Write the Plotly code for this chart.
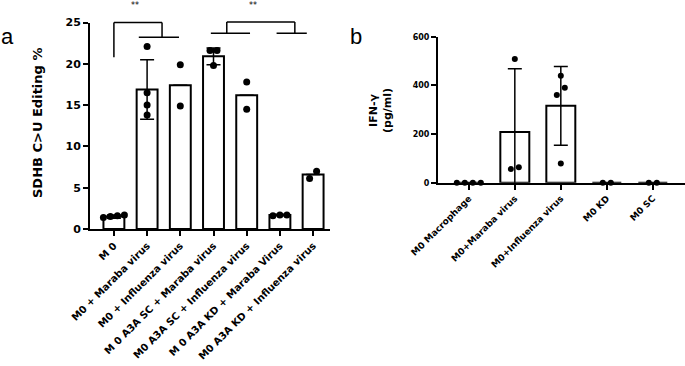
import plotly.graph_objects as go

# ---------------- data ----------------
a_labels = ["M 0", "M0 + Maraba virus", "M0 + Influenza virus",
            "M 0 A3A SC + Maraba virus", "M0 A3A SC + Influenza virus",
            "M 0 A3A KD + Maraba Virus", "M0 A3A KD + Influenza virus"]
a_means = [1.5, 16.9, 17.4, 20.9, 16.2, 1.7, 6.6]
a_sd = [0.2, 3.6, 0, 1.0, 0, 0.1, 0]
a_points = [[1.4, 1.6, 1.5, 1.7], [22.1, 16.5, 15.0, 13.8], [19.9, 14.9],
            [21.6, 21.6, 19.8], [17.8, 14.5], [1.7, 1.7, 1.6], [6.1, 7.0]]
a_yticks = [0, 5, 10, 15, 20, 25]
a_title = "SDHB C>U Editing %"

b_labels = ["M0 Macrophage", "M0+Maraba virus", "M0+Influenza virus", "M0 KD", "M0 SC"]
b_means = [0, 208, 316, 0, 0]
b_sd = [0, 260, 162, 0, 0]
b_points = [[0, 0, 0, 0], [508, 56, 63], [440, 390, 360, 79], [0, 0], [0, 0]]
b_yticks = [0, 200, 400, 600]
b_title = "IFN-γ<br>(pg/ml)"

# ---------------- layout geometry ----------------
W, H = 685, 366
FONT = "DejaVu Sans"
A_X = (90, 330)      # px
A_Y = (229, 22.5)    # px (bottom, top)
A_XR = [-0.72, -0.72 + (A_X[1] - A_X[0]) / 33.2]
A_YR = [0, 25]
B_X = (438, 685)
B_Y = (182.7, 36.7)
B_XR = [-0.67, -0.67 + (B_X[1] - B_X[0]) / 46.0]
B_YR = [0, 600]


def px_scales(xpx, ypx, xr, yr):
    ppc = (xpx[1] - xpx[0]) / (xr[1] - xr[0])
    ppu = (ypx[0] - ypx[1]) / (yr[1] - yr[0])
    return ppc, ppu


def swarm(vals, ppu, ppc, spacing, thresh):
    order = sorted(range(len(vals)), key=lambda i: vals[i])
    clusters = []
    for i in order:
        if clusters and (vals[i] - vals[clusters[-1][-1]]) * ppu < thresh:
            clusters[-1].append(i)
        else:
            clusters.append([i])
    offs = [0.0] * len(vals)
    for c in clusters:
        n = len(c)
        for k, i in enumerate(c):
            offs[i] = (k - (n - 1) / 2) * spacing / ppc
    return offs


fig = go.Figure()

# ---- panel a ----
a_ppc, a_ppu = px_scales(A_X, A_Y, A_XR, A_YR)
a_idx = list(range(len(a_labels)))
fig.add_trace(go.Bar(
    x=a_idx, y=a_means, width=0.63,
    marker=dict(color="white", line=dict(color="black", width=2)),
    error_y=dict(type="data", array=a_sd, visible=True, color="black", thickness=1.5, width=7),
    xaxis="x", yaxis="y", showlegend=False, cliponaxis=False))
ax, ay = [], []
for i, pts in enumerate(a_points):
    offs = swarm(pts, a_ppu, a_ppc, 7, 9)
    for v, o in zip(pts, offs):
        ax.append(i + o)
        ay.append(v)
fig.add_trace(go.Scatter(x=ax, y=ay, mode="markers",
                         marker=dict(color="black", size=7),
                         xaxis="x", yaxis="y", showlegend=False, cliponaxis=False))

# ---- panel b ----
b_ppc, b_ppu = px_scales(B_X, B_Y, B_XR, B_YR)
b_idx = list(range(len(b_labels)))
fig.add_trace(go.Bar(
    x=b_idx, y=b_means, width=0.63,
    marker=dict(color="white", line=dict(color="black", width=2)),
    error_y=dict(type="data", array=b_sd, visible=True, color="black", thickness=1.5, width=7),
    xaxis="x2", yaxis="y2", showlegend=False, cliponaxis=False))
bx, by = [], []
for i, pts in enumerate(b_points):
    offs = swarm(pts, b_ppu, b_ppc, 8, 9)
    for v, o in zip(pts, offs):
        bx.append(i + o)
        by.append(v)
fig.add_trace(go.Scatter(x=bx, y=by, mode="markers",
                         marker=dict(color="black", size=6),
                         xaxis="x2", yaxis="y2", showlegend=False, cliponaxis=False))

axis_common = dict(showgrid=False, zeroline=False, showline=True, linecolor="black",
                   linewidth=2, ticks="outside", tickcolor="black", tickwidth=1.5,
                   ticklen=5, automargin=False)

fig.update_layout(
    width=W, height=H, margin=dict(l=0, r=0, t=0, b=0),
    paper_bgcolor="white", plot_bgcolor="white",
    font=dict(family=FONT, color="black"),
    xaxis=dict(domain=[A_X[0] / W, A_X[1] / W], range=A_XR, tickvals=a_idx,
               ticktext=a_labels, tickangle=-45,
               tickfont=dict(family=FONT, size=10, weight="bold"), anchor="y", **axis_common),
    yaxis=dict(domain=[(H - A_Y[0]) / H, (H - A_Y[1]) / H], range=A_YR, tickvals=a_yticks,
               tickfont=dict(family=FONT, size=11, weight="bold"), anchor="x", **axis_common),
    xaxis2=dict(domain=[B_X[0] / W, B_X[1] / W], range=B_XR, tickvals=b_idx,
                ticktext=b_labels, tickangle=-45,
                tickfont=dict(family=FONT, size=9, weight="bold"), anchor="y2", **axis_common),
    yaxis2=dict(domain=[(H - B_Y[0]) / H, (H - B_Y[1]) / H], range=B_YR, tickvals=b_yticks,
                tickfont=dict(family=FONT, size=8, weight="bold"), anchor="x2", **axis_common),
)

# significance brackets (category units, value units)
def seg(x0, y0, x1, y1):
    return dict(type="line", xref="x", yref="y domain",
                x0=x0, x1=x1, y0=y0 / A_YR[1], y1=y1 / A_YR[1],
                line=dict(color="black", width=1.5))

brackets = [
    seg(0, 20.8, 0, 25.0), seg(0, 25.0, 1.45, 25.0), seg(1.45, 25.0, 1.45, 23.2),
    seg(0.75, 23.2, 1.96, 23.2),
    seg(3.4, 25.05, 5.45, 25.05), seg(3.4, 25.05, 3.4, 23.7), seg(5.45, 25.05, 5.45, 23.7),
    seg(2.92, 23.7, 4.1, 23.7), seg(4.9, 23.7, 5.81, 23.7),
]
fig.update_layout(shapes=brackets)

C = dict(xanchor="center", yanchor="middle", showarrow=False)
ann = [
    dict(text="**", x=0.63, y=27.0 / A_YR[1], xref="x", yref="y domain",
         font=dict(family=FONT, size=8), **C),
    dict(text="**", x=4.2, y=27.0 / A_YR[1], xref="x", yref="y domain",
         font=dict(family=FONT, size=8), **C),
    dict(text=a_title, textangle=-90, x=37 / W, y=(H - 123) / H, xref="paper", yref="paper",
         font=dict(family=FONT, size=13, weight="bold"), **C),
    dict(text=b_title, textangle=-90, x=380 / W, y=(H - 111) / H, xref="paper", yref="paper",
         align="center", font=dict(family=FONT, size=11, weight="bold"), **C),
    dict(text="a", x=7 / W, y=(H - 36.5) / H, xref="paper", yref="paper",
         font=dict(family="Liberation Sans", size=22), **C),
    dict(text="b", x=356 / W, y=(H - 36.5) / H, xref="paper", yref="paper",
         font=dict(family="Liberation Sans", size=22), **C),
]
fig.update_layout(annotations=ann)

fig.write_html("out.html", config={"displayModeBar": False},
               post_script="document.body.style.margin='0';document.body.style.padding='0';")
